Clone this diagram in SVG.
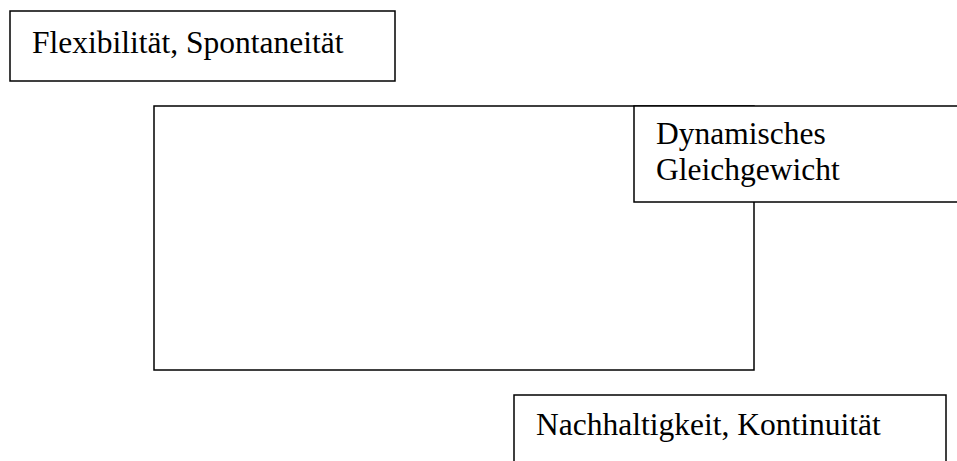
<svg xmlns="http://www.w3.org/2000/svg" width="957" height="461" viewBox="0 0 957 461">
<style>
.box{fill:#fff;stroke:#000;stroke-width:1.5}
.t{font-family:"Liberation Serif","Times New Roman",serif;font-size:31.5px;fill:#000}
</style>
<rect width="957" height="461" fill="#fff"/>
<g id="flex">
<rect class="box" x="10" y="11" width="385" height="70"/>
<text class="t" x="32" y="53">Flexibilität, Spontaneität</text>
</g>
<g id="main">
<rect class="box" x="154" y="106" width="600" height="264"/>
</g>
<g id="dyn">
<rect class="box" x="634" y="106" width="340" height="96"/>
<text class="t" x="656" y="144">Dynamisches</text>
<text class="t" x="656" y="180">Gleichgewicht</text>
</g>
<g id="nach">
<rect class="box" x="514" y="395" width="432" height="90"/>
<text class="t" x="536" y="435">Nachhaltigkeit, Kontinuität</text>
</g>
<g id="connectors"></g>
</svg>
